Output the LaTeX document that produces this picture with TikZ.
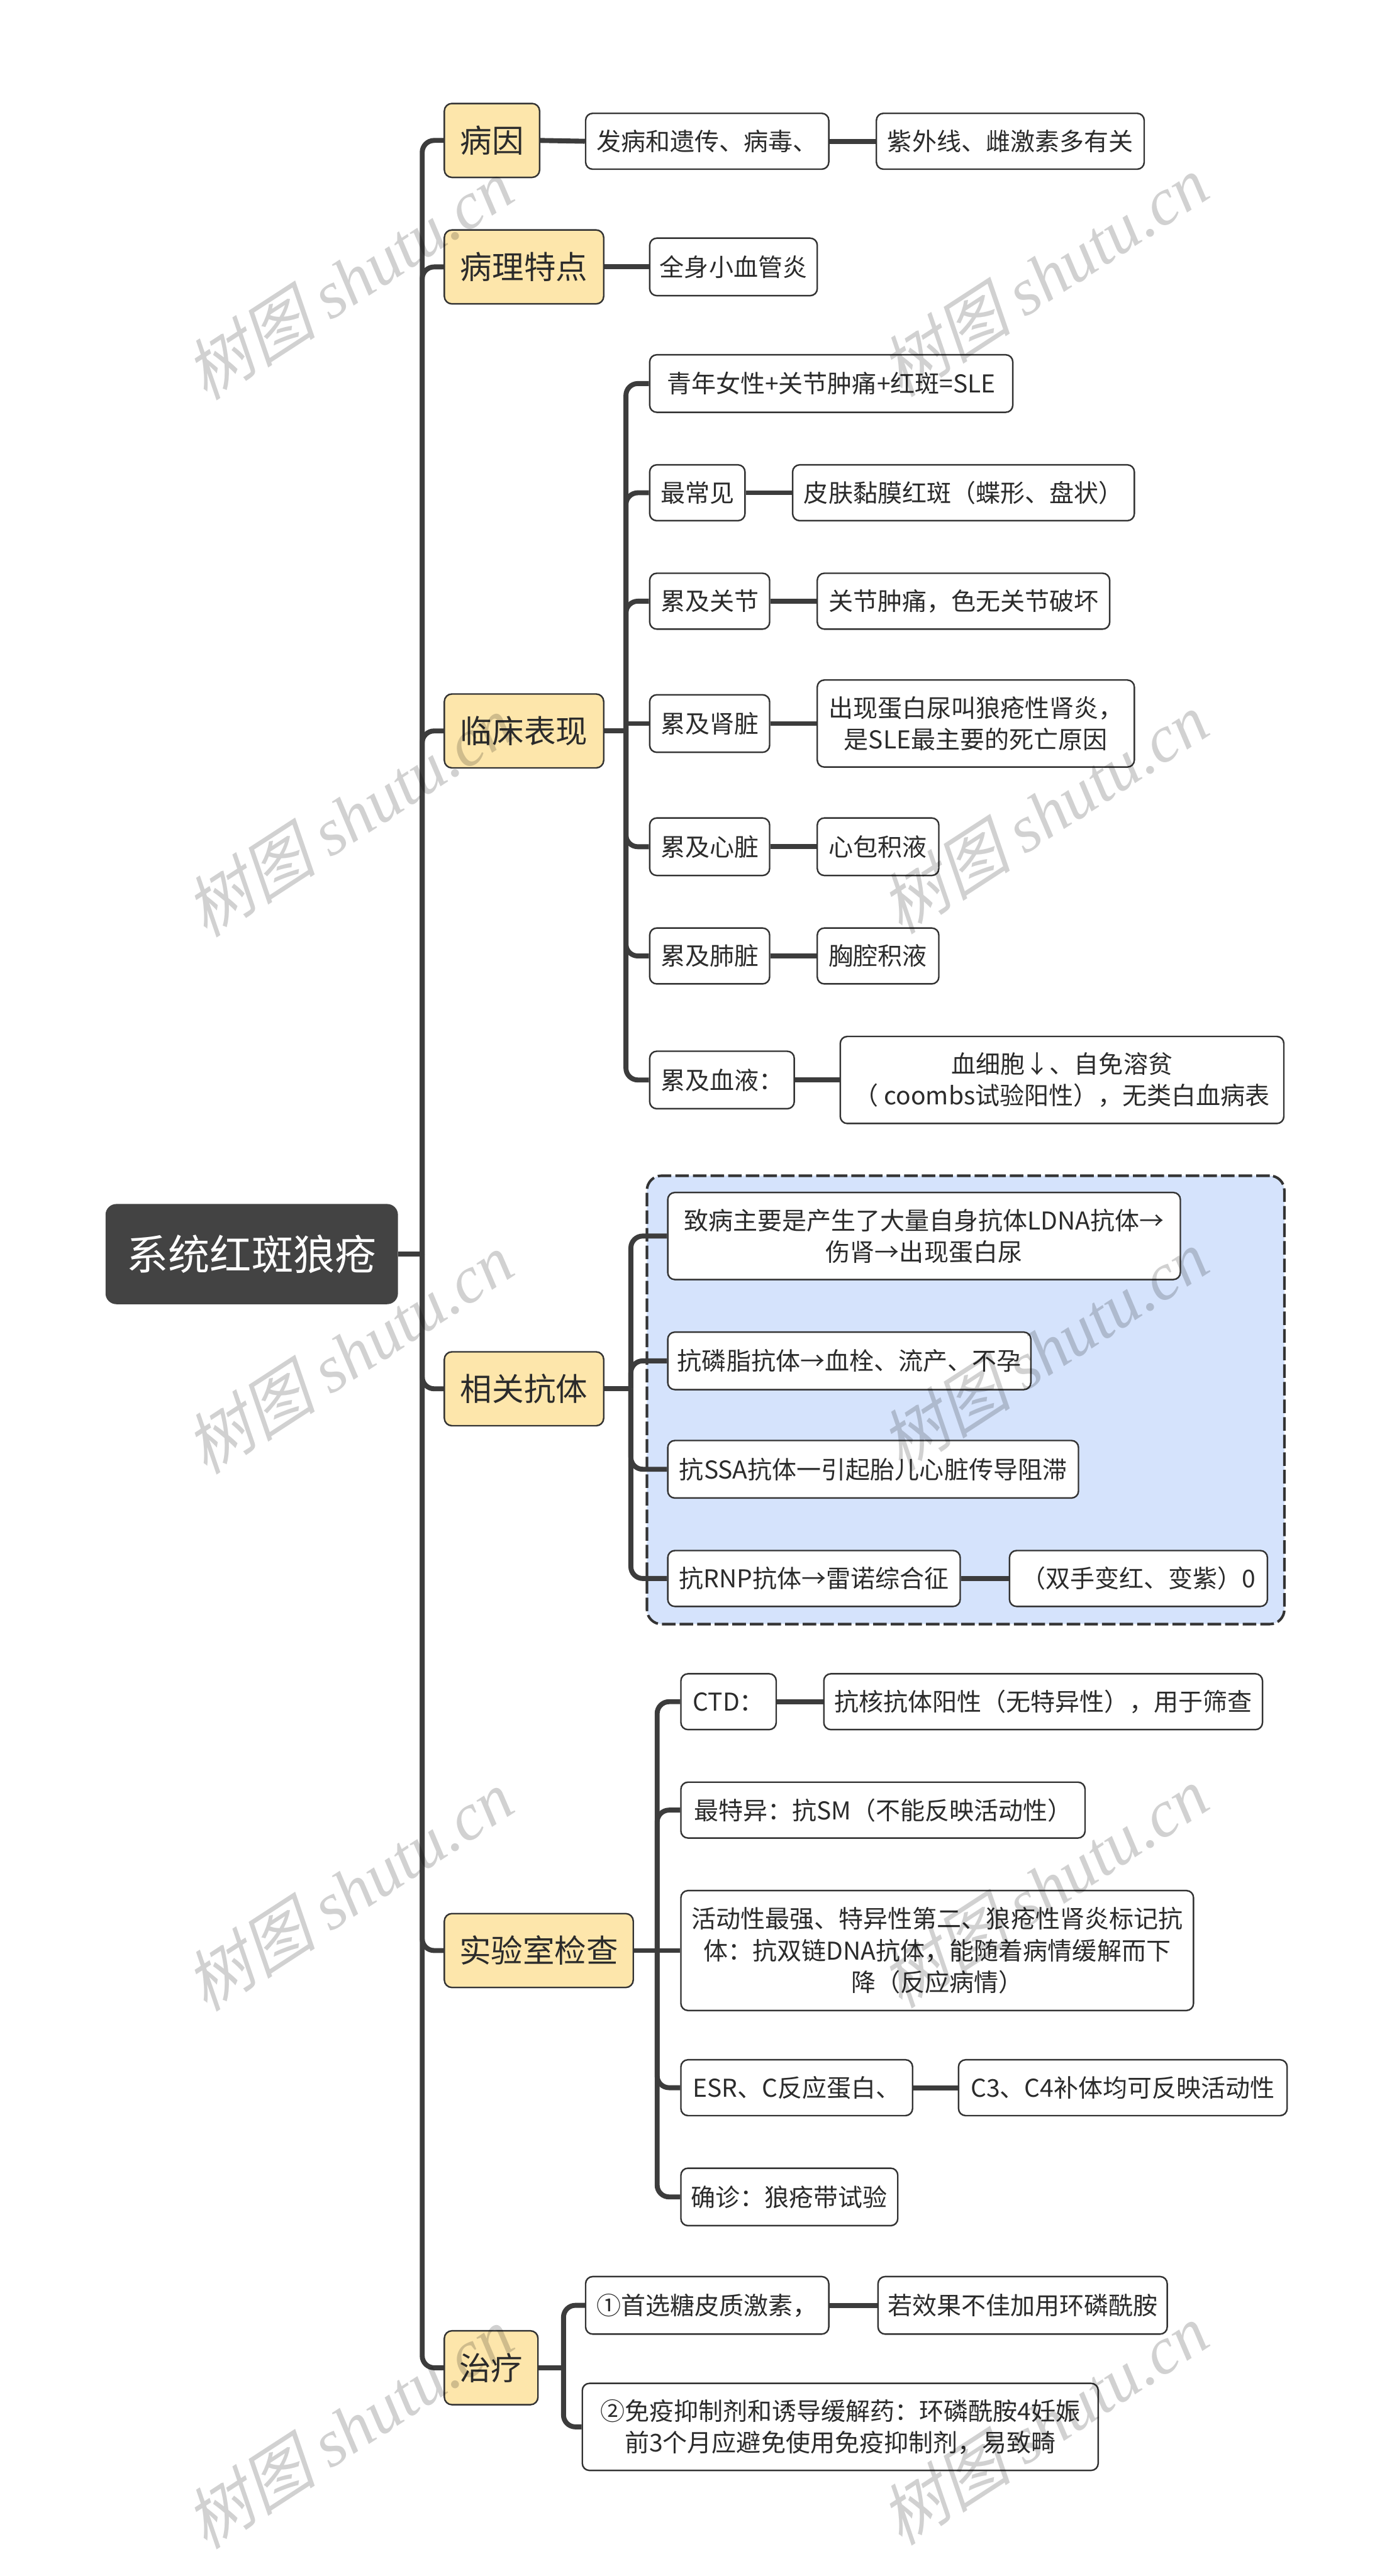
\documentclass[tikz,border=0pt]{standalone}
\usepackage{fontspec}
\setmainfont{Noto Sans CJK SC}
\newfontfamily\wmcjk[FakeSlant=0.25]{Noto Sans CJK SC}
\newfontfamily\wmlat{Liberation Serif}
\def\UPX{0.030332cm}
\definecolor{lnc}{HTML}{3C3C3C}
\definecolor{bdc}{HTML}{333333}
\definecolor{yel}{HTML}{FDE6AB}
\definecolor{blu}{HTML}{D5E3FC}
\definecolor{rootc}{HTML}{434343}
\definecolor{txc}{HTML}{2B2B2B}
\tikzset{
  box/.style={draw=bdc, line width=0.8pt, rounded corners=0.13cm, fill=white, inner sep=0pt,
    align=center, text=txc, font=\fontsize{12.9}{16.6}\selectfont},
  l2box/.style={box, fill=yel, rounded corners=0.14cm, font=\fontsize{16.7}{20}\selectfont},
  rootbox/.style={fill=rootc, draw=none, rounded corners=0.2cm, text=white, inner sep=0pt,
    font=\fontsize{21.9}{26}\selectfont},
  grpbox/.style={draw=bdc, fill=blu, line width=1.35pt, rounded corners=0.27cm,
    dash pattern=on 0.25cm off 0.075cm, inner sep=0pt},
  conn/.style={draw=lnc, line width=2.6pt},
  bconn/.style={conn, rounded corners=0.22cm},
  wm/.style={text=black, text opacity=0.18, rotate=33, inner sep=0pt},
}
\newcommand\bx[7]{\node[#1, anchor=west, minimum width=#5*\UPX, minimum height=#6*\UPX] (#2) at (#3,#4) {#7};}
\newcommand\wmtext{{\wmcjk 树图} {\wmlat\itshape shutu.cn}}
\begin{document}
\begin{tikzpicture}[x=\UPX,y=-\UPX]
\useasboundingbox[fill=white] (0,0) rectangle (844,1568.3);

% group boundary
\node[grpbox, anchor=north west, minimum width=388*\UPX, minimum height=273*\UPX] (grp) at (393,715) {};

% root
\bx{rootbox}{root}{64}{763.5}{178}{61}{系统红斑狼疮}

% level 2
\bx{l2box}{bingyin}{270}{85.5}{58}{45}{病因}
\bx{l2box}{bingli}{270}{162.5}{97}{45}{病理特点}
\bx{l2box}{linchuang}{270}{445}{97}{45}{临床表现}
\bx{l2box}{kangti}{270}{845.5}{97}{45}{相关抗体}
\bx{l2box}{shiyan}{270}{1187.5}{115}{45}{实验室检查}
\bx{l2box}{zhiliao}{270}{1441.5}{57}{45}{治疗}

% 病因
\bx{box}{by1}{356}{86}{148}{34}{发病和遗传、病毒、}
\bx{box}{by2}{533}{86}{163}{34}{紫外线、雌激素多有关}
% 病理特点
\bx{box}{bl1}{395}{162.5}{102}{35}{全身小血管炎}
% 临床表现
\bx{box}{lc1}{395}{233.5}{221}{35}{青年女性+关节肿痛+红斑=SLE}
\bx{box}{lc2}{395}{300}{58}{34}{最常见}
\bx{box}{lc2a}{482}{300}{208}{34}{皮肤黏膜红斑（蝶形、盘状）}
\bx{box}{lc3}{395}{366}{73}{34}{累及关节}
\bx{box}{lc3a}{497}{366}{178}{34}{关节肿痛，色无关节破坏}
\bx{box}{lc4}{395}{440.5}{73}{35}{累及肾脏}
\bx{box}{lc4a}{497}{440.5}{193}{53}{出现蛋白尿叫狼疮性肾炎，\\是SLE最主要的死亡原因}
\bx{box}{lc5}{395}{515.5}{73}{35}{累及心脏}
\bx{box}{lc5a}{497}{515.5}{74}{35}{心包积液}
\bx{box}{lc6}{395}{582}{73}{34}{累及肺脏}
\bx{box}{lc6a}{497}{582}{74}{34}{胸腔积液}
\bx{box}{lc7}{395}{657.5}{88}{35}{累及血液：}
\bx{box}{lc7a}{511}{657.5}{270}{53}{血细胞↓、自免溶贫\\（ coombs试验阳性），无类白血病表}
% 相关抗体
\bx{box}{kt1}{406}{752.5}{312}{53}{致病主要是产生了大量自身抗体LDNA抗体→\\伤肾→出现蛋白尿}
\bx{box}{kt2}{406}{828.5}{221}{35}{抗磷脂抗体→血栓、流产、不孕}
\bx{box}{kt3}{406}{894.5}{250}{35}{抗SSA抗体一引起胎儿心脏传导阻滞}
\bx{box}{kt4}{406}{961}{178}{34}{抗RNP抗体→雷诺综合征}
\bx{box}{kt4a}{614}{961}{157}{34}{（双手变红、变紫）0}
% 实验室检查
\bx{box}{sy1}{414}{1036}{58}{34}{CTD：}
\bx{box}{sy1a}{501}{1036}{267}{34}{抗核抗体阳性（无特异性），用于筛查}
\bx{box}{sy2}{414}{1102}{246}{34}{最特异：抗SM（不能反映活动性）}
\bx{box}{sy3}{414}{1187.5}{312}{73}{活动性最强、特异性第二、狼疮性肾炎标记抗\\体：抗双链DNA抗体，能随着病情缓解而下\\降（反应病情）}
\bx{box}{sy4}{414}{1271}{141}{34}{ESR、C反应蛋白、}
\bx{box}{sy4a}{583}{1271}{200}{34}{C3、C4补体均可反映活动性}
\bx{box}{sy5}{414}{1337.5}{132}{35}{确诊：狼疮带试验}
% 治疗
\bx{box}{zl1}{356}{1403.5}{148}{35}{①首选糖皮质激素，}
\bx{box}{zl1a}{534}{1403.5}{176}{35}{若效果不佳加用环磷酰胺}
\bx{box}{zl2}{354}{1477.5}{314}{53}{②免疫抑制剂和诱导缓解药：环磷酰胺4妊娠\\前3个月应避免使用免疫抑制剂，易致畸}

% trunk
\coordinate (tj) at (257,763.5);
\draw[conn] (root.east) -- (tj);
\foreach \n in {bingyin,bingli,linchuang,kangti,shiyan,zhiliao}
  \draw[bconn] (tj) |- (\n.west);

% 病因 / 病理特点
\draw[conn] (bingyin.east) -- (by1.west);
\draw[conn] (by1.east) -- (by2.west);
\draw[conn] (bingli.east) -- (bl1.west);

% 临床表现
\coordinate (bjlc) at (381,445);
\draw[conn] (linchuang.east) -- (bjlc);
\foreach \n in {lc1,lc2,lc3,lc5,lc6,lc7}
  \draw[bconn] (bjlc) |- (\n.west);
\draw[conn] (bjlc |- lc4.west) -- (lc4.west);
\draw[conn] (lc2.east) -- (lc2a.west);
\draw[conn] (lc3.east) -- (lc3a.west);
\draw[conn] (lc4.east) -- (lc4a.west);
\draw[conn] (lc5.east) -- (lc5a.west);
\draw[conn] (lc6.east) -- (lc6a.west);
\draw[conn] (lc7.east) -- (lc7a.west);

% 相关抗体
\coordinate (bjkt) at (384,845.5);
\draw[conn] (kangti.east) -- (bjkt);
\foreach \n in {kt1,kt2,kt3,kt4}
  \draw[bconn] (bjkt) |- (\n.west);
\draw[conn] (kt4.east) -- (kt4a.west);

% 实验室检查
\coordinate (bjsy) at (400,1187.5);
\draw[conn] (shiyan.east) -- (bjsy);
\foreach \n in {sy1,sy2,sy4,sy5}
  \draw[bconn] (bjsy) |- (\n.west);
\draw[conn] (bjsy) -- (sy3.west);
\draw[conn] (sy1.east) -- (sy1a.west);
\draw[conn] (sy4.east) -- (sy4a.west);

% 治疗
\coordinate (bjzl) at (343,1441.5);
\draw[conn] (zhiliao.east) -- (bjzl);
\foreach \n in {zl1,zl2}
  \draw[bconn] (bjzl) |- (\n.west);
\draw[conn] (zl1.east) -- (zl1a.west);

% watermarks
\foreach \k in {0,1,2,3,4}{
  \node[wm, font=\fontsize{35}{40}\selectfont] (wl\k) at (212,170+327*\k) {\wmtext};
  \node[wm, font=\fontsize{35}{40}\selectfont] (wr\k) at (635,168+327*\k) {\wmtext};
}
\end{tikzpicture}
\end{document}
